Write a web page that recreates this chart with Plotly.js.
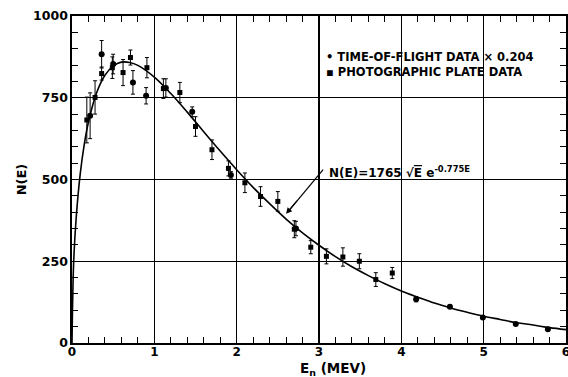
<!DOCTYPE html>
<html>
<head>
<meta charset="utf-8">
<script src="https://cdn.plot.ly/plotly-3.0.1.min.js"></script>
<style>html,body{margin:0;padding:0;background:#fff;}#chart{width:568px;height:377px;}</style>
</head>
<body>
<div id="chart"></div>
<script>
// Time-of-flight data (x 0.204), circles
const tofE   = [0.22, 0.36, 0.50, 0.74, 0.90, 1.14, 1.46, 1.93, 2.72, 4.18, 4.59, 4.99, 5.39, 5.78];
const tofN   = [695, 883, 853, 797, 756, 780, 707, 514, 350, 134, 111, 78, 58, 42];
const tofErr = [70, 42, 30, 36, 25, 28, 15, 10, 22, 8, 5, 4, 3, 3];

// Photographic plate data, squares
const ppE   = [0.18, 0.28, 0.36, 0.49, 0.62, 0.71, 0.91, 1.11, 1.31, 1.50, 1.70, 1.90, 2.10, 2.29, 2.50, 2.70, 2.90, 3.09, 3.29, 3.49, 3.69, 3.89];
const ppN   = [682, 751, 824, 842, 827, 873, 842, 778, 766, 662, 591, 534, 490, 448, 433, 348, 293, 265, 263, 250, 194, 214];
const ppErr = [70, 51, 20, 33, 40, 23, 31, 30, 31, 30, 30, 23, 30, 30, 30, 26, 20, 23, 28, 23, 21, 17];

// Fitted curve N(E) = 1765 sqrt(E) exp(-0.775E)
const fitE = [0, 0.02, 0.05, 0.1, 0.15, 0.2, 0.3, 0.4, 0.5, 0.6, 0.7, 0.8, 1.0, 1.2, 1.4, 1.6, 1.8, 2.0, 2.2, 2.4, 2.6, 2.8, 3.0, 3.2, 3.4, 3.6, 3.8, 4.0, 4.2, 4.4, 4.6, 4.8, 5.0, 5.2, 5.4, 5.6, 5.8, 6.0];
const fitN = [0, 246, 380, 517, 609, 676, 766, 819, 847, 859, 858, 849, 813, 763, 706, 646, 587, 530, 476, 426, 379, 337, 299, 264, 233, 206, 181, 159, 140, 122, 107, 94, 82, 72, 62, 55, 47, 41];

const xTicks = [0, 1, 2, 3, 4, 5, 6];
const yTicks = [0, 250, 500, 750, 1000];

const FONT = 'DejaVu Sans, sans-serif';

const traces = [
  {x: fitE, y: fitN, mode: 'lines', line: {color: '#000', width: 1.6, shape: 'spline', smoothing: 1}, hoverinfo: 'skip'},
  {x: ppE, y: ppN, mode: 'markers', marker: {symbol: 'square', size: 5, color: '#000'},
   error_y: {type: 'data', array: ppErr, visible: true, color: '#000', thickness: 1, width: 2}},
  {x: tofE, y: tofN, mode: 'markers', marker: {symbol: 'circle', size: 6, color: '#000'},
   error_y: {type: 'data', array: tofErr, visible: true, color: '#000', thickness: 1, width: 2}}
];

const layout = {
  width: 568, height: 377,
  margin: {l: 72, r: 2, t: 16, b: 34},
  paper_bgcolor: '#fff', plot_bgcolor: '#fff',
  showlegend: false,
  font: {family: FONT, color: '#000'},
  xaxis: {
    range: [0, 6], tickvals: xTicks, ticktext: xTicks.map(String),
    showline: true, linecolor: '#000', linewidth: 1.6, mirror: 'ticks',
    ticks: 'inside', ticklen: 0, tickcolor: '#000',
    showgrid: true, gridcolor: '#000', gridwidth: 1.4,
    zeroline: false, ticklabeloverflow: 'allow', ticklabelstandoff: -3,
    minor: {dtick: 0.2, ticks: 'inside', ticklen: 6, tickcolor: '#000', tickwidth: 1, showgrid: false},
    tickfont: {family: FONT, size: 12, weight: 'bold', color: '#000'}
  },
  yaxis: {
    range: [0, 1000], tickvals: yTicks, ticktext: yTicks.map(String),
    showline: true, linecolor: '#000', linewidth: 1.6, mirror: 'ticks',
    ticks: 'inside', ticklen: 0, tickcolor: '#000',
    showgrid: true, gridcolor: '#000', gridwidth: 1.4,
    zeroline: false, ticklabeloverflow: 'allow',
    minor: {dtick: 50, ticks: 'inside', ticklen: 6, tickcolor: '#000', tickwidth: 1, showgrid: false},
    tickfont: {family: FONT, size: 12.5, weight: 'bold', color: '#000'},
    title: {text: 'N(E)', font: {family: FONT, size: 13, weight: 'bold', color: '#000'}, standoff: 3}
  },
  shapes: [
    {type: 'line', xref: 'x', yref: 'y', x0: 2.62, y0: 400, x1: 3.05, y1: 530, line: {color: '#000', width: 1.2}}
  ],
  annotations: [
    {xref: 'paper', yref: 'paper', x: 0.528, y: -0.045, xanchor: 'center', yanchor: 'top', showarrow: false,
     text: 'E<sub>n</sub> (MEV)', font: {family: FONT, size: 13.5, weight: 'bold', color: '#000'}},
    {xref: 'x', yref: 'y', x: 3.06, y: 875, xanchor: 'left', yanchor: 'middle', showarrow: false,
     text: '• TIME-OF-FLIGHT DATA × 0.204', font: {family: FONT, size: 11.5, weight: 'bold', color: '#000'}},
    {xref: 'x', yref: 'y', x: 3.06, y: 828, xanchor: 'left', yanchor: 'middle', showarrow: false,
     text: '▪ PHOTOGRAPHIC PLATE DATA', font: {family: FONT, size: 11.5, weight: 'bold', color: '#000'}},
    {xref: 'x', yref: 'y', x: 3.10, y: 522, xanchor: 'left', yanchor: 'middle', showarrow: false,
     text: 'N(E)=1765 √<span style="text-decoration:overline">E</span> e<sup>-0.775E</sup>', font: {family: FONT, size: 12, weight: 'bold', color: '#000'}},
    {xref: 'x', yref: 'y', x: 2.60, y: 395, axref: 'x', ayref: 'y', ax: 2.75, ay: 440,
     text: ' ', font: {size: 1}, showarrow: true, arrowhead: 2, arrowsize: 1, arrowwidth: 1.2, arrowcolor: '#000'}
  ]
};

Plotly.newPlot('chart', traces, layout, {staticPlot: true, displayModeBar: false});
</script>
</body>
</html>
